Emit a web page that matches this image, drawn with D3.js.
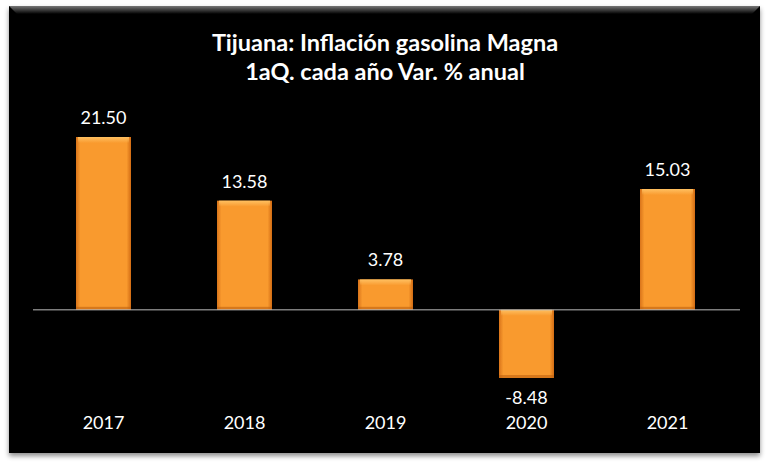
<!DOCTYPE html>
<html>
<head>
<meta charset="utf-8">
<script src="https://cdn.jsdelivr.net/npm/d3@7"></script>
<style>
  body { margin: 0; background: #fff; }
  svg { display: block; font-family: Lato, "Open Sans", sans-serif; }
</style>
</head>
<body>
<div id="chart"></div>
<script>
// chart data
var years = ["2017", "2018", "2019", "2020", "2021"];
var values = [21.50, 13.58, 3.78, -8.48, 15.03];
var titleLines = ["Tijuana: Inflación gasolina Magna", "1aQ. cada año Var. % anual"];

var svgWidth = 770;
var svgHeight = 471;

var svg = d3.select("#chart")
    .append("svg")
    .attr("width", svgWidth)
    .attr("height", svgHeight);

var defs = svg.append("defs");

// panel shadow
var shadow = defs.append("filter").attr("id", "shadow")
    .attr("x", "-5%").attr("y", "-5%").attr("width", "110%").attr("height", "115%");
shadow.append("feGaussianBlur").attr("in", "SourceAlpha").attr("stdDeviation", 2.5);
shadow.append("feOffset").attr("dx", 0).attr("dy", 3).attr("result", "blur");
shadow.append("feFlood").attr("flood-color", "#000").attr("flood-opacity", 0.45);
shadow.append("feComposite").attr("in2", "blur").attr("operator", "in");
var merge = shadow.append("feMerge");
merge.append("feMergeNode");
merge.append("feMergeNode").attr("in", "SourceGraphic");

// top bevel of the panel
var bevel = defs.append("linearGradient").attr("id", "bevel")
    .attr("x1", 0).attr("y1", 0).attr("x2", 0).attr("y2", 1);
bevel.append("stop").attr("offset", "0%").attr("stop-color", "#777");
bevel.append("stop").attr("offset", "100%").attr("stop-color", "#000");

// bar gradients
var barH = defs.append("linearGradient").attr("id", "barH")
    .attr("x1", 0).attr("y1", 0).attr("x2", 1).attr("y2", 0);
barH.append("stop").attr("offset", "0%").attr("stop-color", "#d9741a");
barH.append("stop").attr("offset", "8%").attr("stop-color", "#f99a2e");
barH.append("stop").attr("offset", "92%").attr("stop-color", "#f99a2e");
barH.append("stop").attr("offset", "100%").attr("stop-color", "#d26c14");

var barTop = defs.append("linearGradient").attr("id", "barTop")
    .attr("x1", 0).attr("y1", 0).attr("x2", 0).attr("y2", 1);
barTop.append("stop").attr("offset", "0%").attr("stop-color", "#ffc061").attr("stop-opacity", 1);
barTop.append("stop").attr("offset", "100%").attr("stop-color", "#ffc061").attr("stop-opacity", 0);

// black panel
svg.append("rect")
    .attr("x", 9).attr("y", 6)
    .attr("width", 751).attr("height", 447)
    .attr("fill", "#000")
    .attr("filter", "url(#shadow)");
svg.append("path")
    .attr("d", "M9,6 L760,6 L752,14 L17,14 Z")
    .attr("fill", "url(#bevel)");

// title
svg.append("text")
    .attr("text-anchor", "middle")
    .attr("fill", "#fff")
    .attr("font-weight", "bold")
    .attr("font-size", "23.5px")
    .selectAll("tspan")
    .data(titleLines)
    .enter()
    .append("tspan")
    .attr("x", 385)
    .attr("y", (d, i) => 51 + i * 29)
    .text(d => d);

// scales
var xScale = d3.scaleBand()
    .domain(years)
    .range([33, 738])
    .paddingInner(0.61)
    .paddingOuter(0.305);

var yScale = d3.scaleLinear()
    .domain([-8.48, 21.5])
    .range([378, 137]);

var chartGroup = svg.append("g");

// bars
var bars = chartGroup.selectAll(".bar")
    .data(values)
    .enter()
    .append("g")
    .attr("class", "bar");

bars.append("rect")
    .attr("x", (d, i) => xScale(years[i]))
    .attr("y", d => yScale(Math.max(0, d)))
    .attr("width", xScale.bandwidth())
    .attr("height", d => Math.abs(yScale(d) - yScale(0)))
    .attr("fill", "url(#barH)");

bars.append("rect")
    .attr("x", (d, i) => xScale(years[i]) + 2)
    .attr("y", d => yScale(Math.max(0, d)))
    .attr("width", xScale.bandwidth() - 4)
    .attr("height", 6)
    .attr("fill", "url(#barTop)");

bars.append("rect")
    .attr("x", (d, i) => xScale(years[i]))
    .attr("y", d => yScale(Math.min(0, d)) - 3)
    .attr("width", xScale.bandwidth())
    .attr("height", 3)
    .attr("fill", "#c0630f")
    .attr("opacity", 0.6);

// zero line
chartGroup.append("line")
    .attr("x1", 33).attr("x2", 740)
    .attr("y1", yScale(0)).attr("y2", yScale(0))
    .attr("stroke", "#bbb")
    .attr("stroke-width", 1);

// value labels
chartGroup.selectAll(".val")
    .data(values)
    .enter()
    .append("text")
    .attr("class", "val")
    .attr("x", (d, i) => xScale(years[i]) + xScale.bandwidth() / 2)
    .attr("y", d => d >= 0 ? yScale(d) - 13 : yScale(d) + 26)
    .attr("text-anchor", "middle")
    .attr("fill", "#fff")
    .attr("font-size", "18px")
    .text(d => d.toFixed(2));

// category axis labels
var xAxis = d3.axisBottom(xScale).tickSize(0).tickPadding(0);
var axisG = chartGroup.append("g")
    .attr("transform", "translate(0, 416)")
    .call(xAxis);
axisG.select(".domain").remove();
axisG.selectAll("text")
    .attr("fill", "#fff")
    .attr("font-size", "18px")
    .attr("font-family", "Lato, 'Open Sans', sans-serif");
</script>
</body>
</html>
